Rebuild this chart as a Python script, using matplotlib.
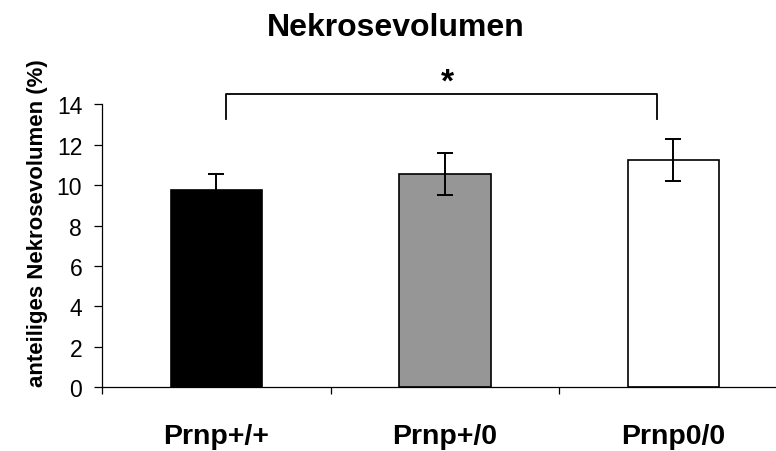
import matplotlib
matplotlib.use("Agg")
import matplotlib.pyplot as plt
import numpy as np

# data
groups = ["Prnp+/+", "Prnp+/0", "Prnp0/0"]
means = [9.78, 10.55, 11.26]
errs = [0.77, 1.03, 1.03]
colors = ["black", "#969696", "white"]
yticks = [0, 2, 4, 6, 8, 10, 12, 14]

plt.rcParams["font.family"] = ["Liberation Sans", "DejaVu Sans"]

fig = plt.figure(figsize=(7.76, 4.52), dpi=100)
ax = fig.add_axes([0.1318, 0.1409, 0.883, 0.626])

x = np.arange(len(groups))
ax.bar(x, means, width=0.40, color=colors, edgecolor="black", linewidth=1.2, zorder=2)
ax.errorbar(x, means, yerr=errs, fmt="none", ecolor="black", elinewidth=1.4,
            capsize=5.5, capthick=1.4, zorder=3)

ax.set_xlim(-0.5, 2.5)
ax.set_ylim(0, 14)
ax.set_yticks(yticks)
ax.tick_params(axis="y", labelsize=16.5, length=5.5, width=0.9, pad=9)

# category labels at centres, ticks at category boundaries
ax.set_xticks(x)
ax.set_xticklabels(groups, fontsize=20.5, fontweight="bold")
ax.set_xticks(np.arange(-0.5, 3.0, 1.0), minor=True)
ax.tick_params(axis="x", which="major", length=0, pad=26)
ax.tick_params(axis="x", which="minor", length=5, width=0.9)

for s in ["top", "right"]:
    ax.spines[s].set_visible(False)
for s in ["left", "bottom"]:
    ax.spines[s].set_linewidth(0.9)

# significance bracket
ax.plot([0.04, 0.04, 1.93, 1.93], [13.3, 14.5, 14.5, 13.3], color="black",
        linewidth=1.3, clip_on=False)
ax.text(1.01, 15.1, "*", ha="center", va="center", fontsize=24, fontweight="bold")

fig.text(0.51, 1 - 28 / 452, "Nekrosevolumen", ha="center", va="center",
         fontsize=23, fontweight="bold")
fig.text(38 / 776, 1 - 223 / 452, "anteiliges Nekrosevolumen (%)", rotation=90,
         ha="center", va="center", fontsize=16, fontweight="bold")

fig.savefig("out.png", dpi=100)
